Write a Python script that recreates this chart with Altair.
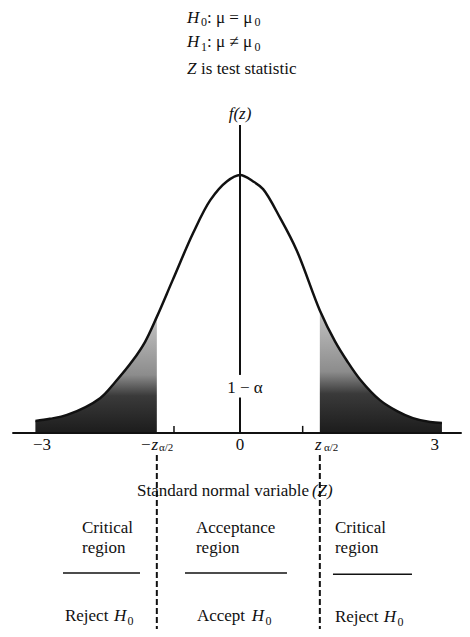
import altair as alt
import pandas as pd

# Density curve (z, f(z))
curve_z = [-3.10, -2.88, -2.62, -2.12, -1.89, -1.62, -1.44, -1.26, -1.02, -0.71, -0.45, -0.20, 0.00,
           0.20, 0.35, 0.61, 0.86, 1.21, 1.44, 1.62, 1.82, 2.12, 2.38, 2.62, 2.88, 3.06]
curve_f = [0.0186, 0.022, 0.028, 0.054, 0.079, 0.113, 0.141, 0.180, 0.237, 0.310, 0.361, 0.390, 0.400,
           0.390, 0.378, 0.333, 0.283, 0.190, 0.142, 0.112, 0.083, 0.051, 0.034, 0.023, 0.017, 0.0155]
z_left_crit = -1.26
z_right_crit = 1.21

XDOM = [-3.515, 3.364]
YDOM = [-0.3039, 0.6589]
W, H = 454, 621
FONT = "Liberation Serif"
INK = "#111111"
INTERP = "catmull-rom"

curve = pd.DataFrame({"z": curve_z, "f": curve_f})
left_tail = curve[curve.z <= z_left_crit]
right_tail = curve[curve.z >= z_right_crit]

xs = alt.Scale(domain=XDOM, nice=False, zero=False)
ys = alt.Scale(domain=YDOM, nice=False, zero=False)
X = lambda f="z": alt.X(f"{f}:Q", scale=xs, axis=None)
Y = lambda f="f": alt.Y(f"{f}:Q", scale=ys, axis=None)

grad = alt.Gradient(
    gradient="linear",
    stops=[alt.GradientStop(color="#c4c4c4", offset=0),
           alt.GradientStop(color="#8c8c8c", offset=0.5),
           alt.GradientStop(color="#3a3a3a", offset=0.68),
           alt.GradientStop(color="#1c1c1c", offset=1)],
    x1=0, x2=0, y1=0, y2=1,
)

def tail(df):
    return alt.Chart(df).mark_area(interpolate=INTERP, color=grad).encode(
        x=X(), y=Y(), y2=alt.datum(0))

line = alt.Chart(curve).mark_line(interpolate=INTERP, color=INK, strokeWidth=2.5).encode(x=X(), y=Y())

# Solid rules: axis line, vertical axis (two pieces), small ticks, underlines
rules = pd.DataFrame({
    "x1": [-3.45, 0.0, 0.0, -1.0, 0.95, -2.682, -0.833, 1.409],
    "x2": [3.36, 0.0, 0.0, -1.0, 0.95, -1.515, 0.712, 2.606],
    "y1": [0.0, 0.0, 0.09, 0.0, 0.0, -0.217, -0.217, -0.219],
    "y2": [0.0, 0.055, 0.4775, 0.011, 0.011, -0.217, -0.217, -0.219],
    "w": [2, 2, 2, 1.5, 1.5, 1.5, 1.5, 1.5],
})
rule_layer = alt.Chart(rules).mark_rule(color=INK).encode(
    x=X("x1"), x2="x2", y=Y("y1"), y2="y2",
    strokeWidth=alt.StrokeWidth("w:Q", scale=None))

dashes = pd.DataFrame({"x": [z_left_crit, z_right_crit], "y1": [-0.034, -0.034], "y2": [YDOM[0], YDOM[0]]})
dash_layer = alt.Chart(dashes).mark_rule(color=INK, strokeWidth=2, strokeDash=[6, 3]).encode(
    x=X("x"), y=Y("y1"), y2="y2")

def texts(rows, italic=False, align="left"):
    df = pd.DataFrame(rows, columns=["z", "f", "t", "s"])
    kw = dict(font=FONT, color=INK, align=align, baseline="middle")
    if italic:
        kw["fontStyle"] = "italic"
    return alt.Chart(df).mark_text(**kw).encode(
        x=X(), y=Y(), text="t:N", size=alt.Size("s:Q", scale=None))

reg_left = texts([
    (-0.591, 0.637, "0", 12),
    (-0.500, 0.644, ": μ = μ", 17),
    (0.220, 0.637, "0", 12),
    (-0.591, 0.599, "1", 12),
    (-0.500, 0.606, ": μ ≠ μ", 17),
    (0.220, 0.599, "0", 12),
    (-0.590, 0.564, "is test statistic", 17),
    (-1.227, -0.0233, "α/2", 11),
    (1.273, -0.0233, "α/2", 11),
    (-2.394, -0.1473, "Critical", 17),
    (-2.394, -0.1783, "region", 17),
    (-0.667, -0.1473, "Acceptance", 17),
    (-0.667, -0.1783, "region", 17),
    (1.439, -0.1473, "Critical", 17),
    (1.439, -0.1783, "region", 17),
    (-2.652, -0.2845, "Reject", 17),
    (-0.652, -0.2845, "Accept", 17),
    (1.439, -0.2860, "Reject", 17),
    (-1.705, -0.2920, "0", 12),
    (0.385, -0.2920, "0", 12),
    (2.385, -0.2935, "0", 12),
])
ital_left = texts([
    (-0.803, 0.644, "H", 17),
    (-0.803, 0.606, "H", 17),
    (-0.803, 0.564, "Z", 17),
    (1.136, -0.0186, "z", 17),
    (1.090, -0.0899, "(Z)", 17),
    (-1.91, -0.2845, "H", 17),
    (0.18, -0.2845, "H", 17),
    (2.18, -0.2860, "H", 17),
], italic=True)
ital_right = texts([
    (-1.242, -0.0186, "−z", 17),
], italic=True, align="right")
reg_right = texts([
    (1.045, -0.0899, "Standard normal variable", 17),
], align="right")
reg_center = texts([
    (0.076, 0.070, "1 − α", 17),
    (-3.0, -0.0186, "−3", 17),
    (0.0, -0.0186, "0", 17),
    (2.95, -0.0186, "3", 17),
], align="center")
ital_center = texts([
    (0.0, 0.4946, "f(z)", 17),
], italic=True, align="center")

chart = alt.layer(
    tail(left_tail), tail(right_tail), line, rule_layer, dash_layer,
    reg_left, ital_left, ital_right, reg_right, reg_center, ital_center,
).properties(
    width=W, height=H, padding=0, autosize="none", background="white",
).configure_view(stroke=None)

chart.save("out.html", embed_options={"renderer": "svg", "actions": False})
